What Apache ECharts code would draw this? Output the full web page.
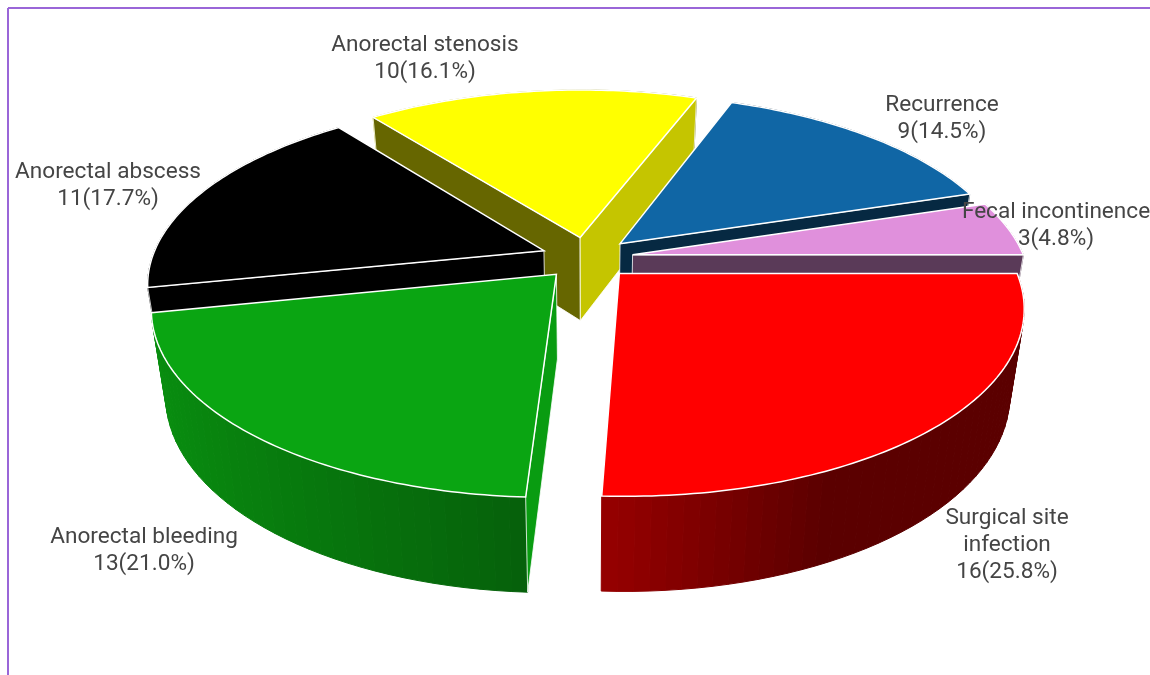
<!DOCTYPE html>
<html>
<head>
<meta charset="utf-8">
<style>html,body{margin:0;padding:0;background:#fff}#chart{width:1150px;height:675px}</style>
<script src="https://cdn.jsdelivr.net/npm/echarts@6/dist/echarts.min.js"></script>
</head>
<body>
<div id="chart"></div>
<script>
// Complication counts, clockwise from the three o'clock position
const categories = ['Surgical site\ninfection', 'Anorectal bleeding', 'Anorectal abscess', 'Anorectal stenosis', 'Recurrence', 'Fecal incontinence'];
const counts = [16, 13, 11, 10, 9, 3];
const percents = ['25.8', '21.0', '17.7', '16.1', '14.5', '4.8'];
const sliceColors = ['#ff0000', '#0aa512', '#000000', '#ffff00', '#1066a5', '#e090dc'];
const labelCentres = [[1007, 545], [144, 551], [108, 186], [425, 59], [942, 119], [1056, 226]];

// Projection of the tilted disc
const view = { cx: 587, cy: 258, radiusX: 392, radiusY: 179, depth: 84, perspective: 0.17, taper: 0.033, explode: 0.118 };

function project(X, Y, Z) {
  const s = 1 / (1 - view.perspective * Y);
  const t = 1 - view.taper * Z;
  return [
    view.cx + view.radiusX * X * s * t,
    view.cy + view.radiusY * Y * s * t + view.depth * Z * s
  ];
}

function shadeColor(hex, k) {
  const n = parseInt(hex.slice(1), 16);
  const c = [(n >> 16) & 255, (n >> 8) & 255, n & 255].map(v => Math.round(v * k));
  return 'rgb(' + c.join(',') + ')';
}

// Rim walls lighten toward the left of the disc
function wallShade(theta) {
  const c = Math.cos(theta);
  return c <= 0 ? 0.57 - 0.3 * c : Math.max(0.355, 0.57 - 0.5 * c);
}

// Flat cut faces are lit only when they turn to the right
function cutShade(theta, side) {
  const nx = Math.cos(theta + side * Math.PI / 2);
  return 0.4 + 0.55 * Math.pow(Math.max(0, nx), 6);
}

const total = counts.reduce((a, b) => a + b, 0);
let running = 0;
const slices = counts.map((v, i) => {
  const a0 = running / total * 2 * Math.PI;
  running += v;
  const a1 = running / total * 2 * Math.PI;
  return { index: i, a0, a1, mid: (a0 + a1) / 2 };
});

function polygon(points, fill, stroke, lineWidth) {
  return {
    type: 'polygon',
    shape: { points },
    style: { fill, stroke: stroke || fill, lineWidth: lineWidth === undefined ? 1 : lineWidth }
  };
}

function renderSlice(params, api) {
  const sl = slices[api.value(0)];
  const color = sliceColors[sl.index];
  const ox = view.explode * Math.cos(sl.mid);
  const oy = view.explode * Math.sin(sl.mid);
  const rim = (th, z) => project(ox + Math.cos(th), oy + Math.sin(th), z);
  const apex = z => project(ox, oy, z);
  const inner = rim(sl.mid, 0);
  const children = [];

  // Curved wall, built as narrow shaded bands
  const bands = Math.ceil((sl.a1 - sl.a0) / (Math.PI / 90));
  for (let b = 0; b < bands; b++) {
    const t0 = sl.a0 + (sl.a1 - sl.a0) * b / bands;
    const t1 = sl.a0 + (sl.a1 - sl.a0) * (b + 1) / bands;
    const fill = shadeColor(color, wallShade((t0 + t1) / 2));
    children.push(polygon([rim(t0, 0), rim(t1, 0), rim(t1, 1), rim(t0, 1)], fill));
  }

  // Cut faces: only those whose lower side falls outside the top face
  [[sl.a0, 1], [sl.a1, -1]].forEach(([th, side]) => {
    const A = apex(0), B = rim(th, 0);
    const dx = B[0] - A[0], dy = B[1] - A[1];
    const inside = dx * (inner[1] - A[1]) - dy * (inner[0] - A[0]);
    if (inside * dx < 0) {
      const fill = shadeColor(color, cutShade(th, -side));
      children.push(polygon([A, B, rim(th, 1), apex(1)], fill, '#ffffff', 0.8));
    }
  });

  // Top face with a thin white edge
  const top = [apex(0)];
  const steps = Math.ceil((sl.a1 - sl.a0) / (Math.PI / 180));
  for (let k = 0; k <= steps; k++) {
    top.push(rim(sl.a0 + (sl.a1 - sl.a0) * k / steps, 0));
  }
  children.push(polygon(top, color, '#ffffff', 1.5));
  return { type: 'group', children };
}

function renderLabel(params, api) {
  const i = api.value(0);
  return {
    type: 'text',
    x: labelCentres[i][0],
    y: labelCentres[i][1],
    style: {
      text: categories[i] + '\n' + counts[i] + '(' + percents[i] + '%)',
      fill: '#454545',
      font: '22.6px Roboto, "Liberation Sans", sans-serif',
      lineHeight: 27,
      align: 'center',
      verticalAlign: 'middle'
    }
  };
}

// Slices are painted from the back of the disc to the front
const paintOrder = slices.slice().sort((p, q) => Math.sin(p.mid) - Math.sin(q.mid)).map(s => s.index);

const chart = echarts.init(document.getElementById('chart'), null, { renderer: 'canvas' });
chart.setOption({
  animation: false,
  backgroundColor: '#ffffff',
  graphic: [
    { type: 'line', shape: { x1: 8, y1: 8, x2: 1150, y2: 8 }, style: { stroke: '#9a66d8', lineWidth: 2 } },
    { type: 'line', shape: { x1: 8, y1: 8, x2: 8, y2: 675 }, style: { stroke: '#9a66d8', lineWidth: 2 } }
  ],
  series: [
    { type: 'custom', coordinateSystem: 'none', silent: true, renderItem: renderSlice, data: paintOrder.map(i => [i]), z: 2 },
    { type: 'custom', coordinateSystem: 'none', silent: true, renderItem: renderLabel, data: categories.map((c, i) => [i]), z: 3 }
  ]
});
</script>
</body>
</html>
